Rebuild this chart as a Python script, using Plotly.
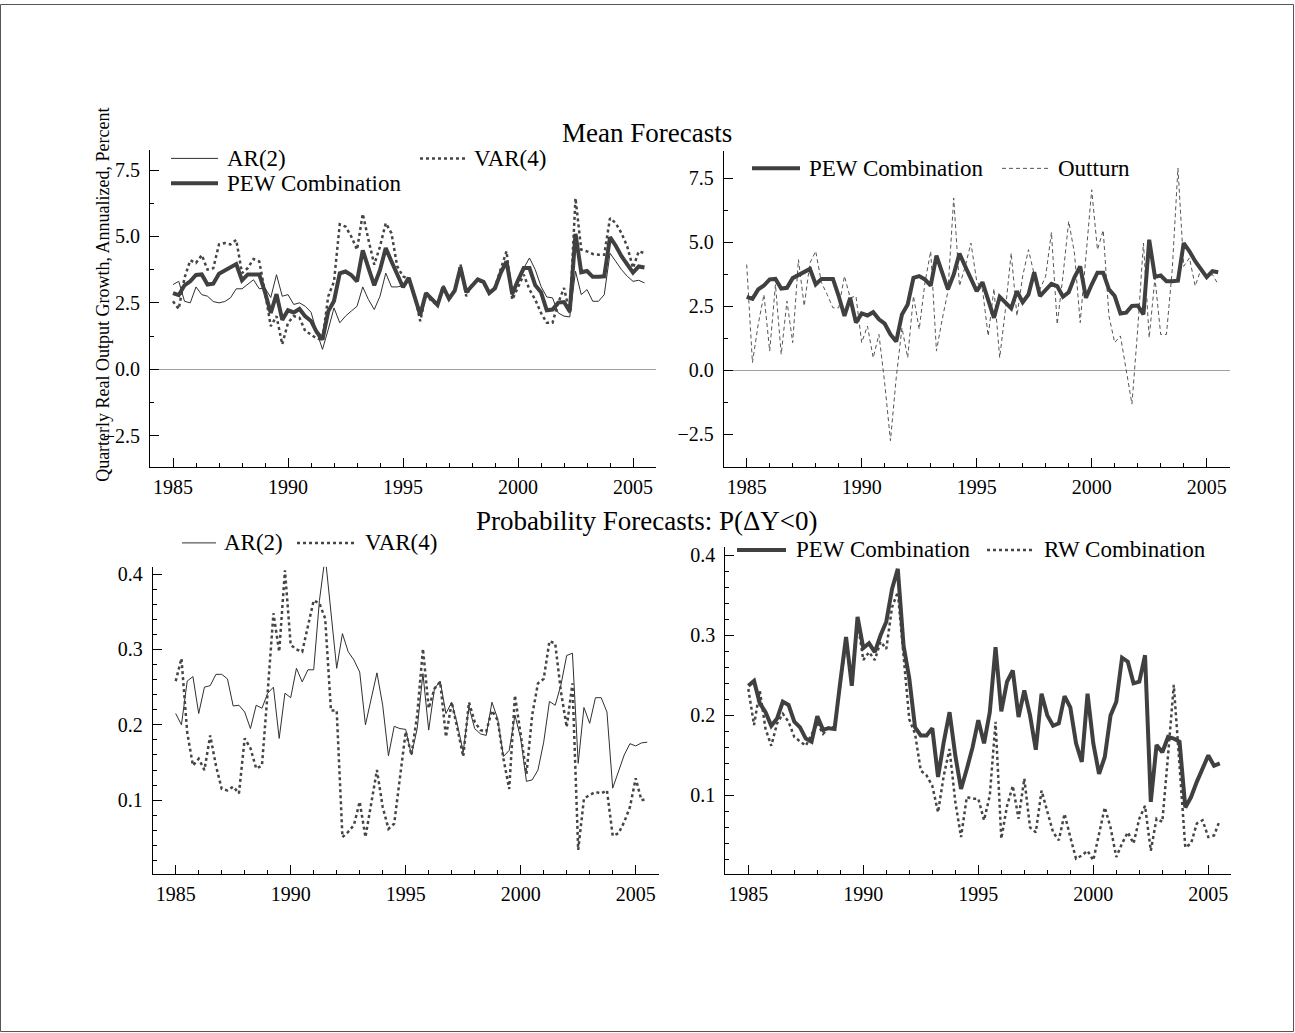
import plotly.graph_objects as go

# ---------------- data ----------------
quarters = [1985 + 0.25 * i for i in range(83)]

pew_mean = [2.87, 2.79, 3.16, 3.31, 3.55, 3.57, 3.19, 3.22, 3.60, 3.71, 3.83, 3.96, 3.35, 3.57, 3.57, 3.57, 2.90, 2.12, 2.83, 1.86,
            2.22, 2.14, 2.27, 1.99, 1.82, 1.40, 1.12, 2.18, 2.57,
            3.61, 3.68, 3.55, 3.31, 4.48, 3.81, 3.16, 3.74, 4.56, 4.06, 3.61, 3.09, 3.44, 2.70, 2.05, 2.87, 2.64, 2.42, 3.09, 2.66,
            2.96, 3.83, 2.90, 3.16, 3.38, 3.29, 2.87, 3.05, 3.63, 4.06,
            2.83, 3.35, 3.81, 3.81, 3.16, 2.90, 2.22, 2.25, 2.51, 2.53, 2.18, 5.10, 3.65, 3.70, 3.48, 3.48, 3.50, 4.97, 4.65, 4.26,
            3.94, 3.64, 3.87, 3.83]

ar2_mean = [3.19, 3.31, 2.56, 2.50, 3.10, 2.81, 2.75, 2.55, 2.50, 2.55, 2.69, 3.03, 3.03, 3.20, 3.37, 3.03, 3.06, 2.70, 3.56, 2.75,
            2.81, 2.44, 2.50, 2.37, 2.15, 1.40,
            0.75, 1.50, 2.31, 1.75, 2.00, 2.19, 2.37, 3.10, 2.62, 2.25, 2.75, 3.62, 3.10, 3.10,
            3.15, 3.40, 2.75, 2.15, 2.80, 2.60, 2.45, 3.05, 2.70, 2.95, 3.75, 2.95, 3.15, 3.35, 3.30, 2.90, 3.10, 3.70,
            4.00, 2.75, 3.30, 3.81, 4.19, 3.75, 3.12, 2.72, 2.69, 2.12, 2.00, 1.97, 3.69, 2.81, 3.00, 2.56, 2.56, 2.81, 4.37, 4.06,
            3.75, 3.50, 3.31, 3.35, 3.25]

var4_mean = [2.56, 2.27, 3.44, 4.10, 4.00, 4.30, 3.75, 3.80, 4.70, 4.75, 4.70, 4.87, 3.62, 3.81, 4.15, 4.06, 2.90, 1.62, 2.00, 0.94,
             1.75, 2.00, 1.94, 1.44, 1.31, 1.15,
             1.12, 2.75, 3.30, 5.46, 5.37, 5.00, 4.50, 5.85, 4.87, 3.94, 4.62, 5.50, 5.12, 3.87,
             3.50, 3.40, 2.80, 1.81, 2.85, 2.55, 2.45, 3.15, 2.60, 3.00, 3.95, 2.75, 3.20, 3.35, 3.25, 2.85, 3.10, 3.75,
             4.44, 2.62, 3.10, 3.56, 3.00, 2.62, 2.12, 1.75, 1.75, 2.50, 3.06, 2.12, 6.44, 4.50, 4.44, 4.34, 4.31, 4.31, 5.69, 5.50,
             5.12, 4.62, 3.81, 4.44, 4.37]

outturn = [4.13, 0.30, 1.79, 2.96, 0.75, 3.35, 0.62, 2.70, 1.08, 4.32, 2.51, 4.19, 4.65, 3.42, 2.96, 2.44, 2.44, 3.68, 2.83, 2.90,
           1.08, 1.73, 0.49, 1.40, -0.50, -2.75, -0.30, 1.66, 0.49,
           2.90, 1.60, 3.42, 4.65, 0.75, 1.99, 3.09, 6.73, 3.29, 4.06, 4.97, 3.48, 3.16, 1.34, 3.19, 0.49, 2.38, 4.58, 2.12, 3.68,
           4.71, 3.74, 3.16, 3.68, 5.39, 1.79, 3.68, 5.82, 4.58, 1.86,
           4.50, 7.05, 4.71, 5.47, 2.12, 1.08, 1.34, 0.05, -1.32, 1.60, 4.97, 1.27, 3.61, 1.40, 1.40, 3.90, 7.90, 4.06, 4.39, 3.29,
           3.94, 3.68, 3.74, 3.35]

ar2_prob = [0.215, 0.200, 0.258, 0.264, 0.215, 0.250, 0.252, 0.267, 0.267, 0.261, 0.225, 0.226, 0.217, 0.195, 0.226, 0.222, 0.242,
            0.250, 0.182, 0.242, 0.236, 0.275, 0.257, 0.273, 0.273, 0.365,
            0.424, 0.350, 0.275, 0.321, 0.297, 0.286, 0.270, 0.200, 0.235, 0.269, 0.226, 0.159, 0.198, 0.195, 0.194, 0.160, 0.195,
            0.268, 0.193, 0.248, 0.258, 0.215, 0.230, 0.200, 0.164, 0.224, 0.195, 0.188, 0.186,
            0.230, 0.208, 0.158, 0.166, 0.213, 0.182, 0.125, 0.127, 0.140, 0.177, 0.231, 0.226, 0.253, 0.292, 0.295, 0.149, 0.223,
            0.202, 0.236, 0.236, 0.217, 0.116, 0.137, 0.160, 0.175, 0.172, 0.176, 0.177]

var4_prob = [0.258, 0.288, 0.190, 0.146, 0.155, 0.140, 0.186, 0.146, 0.115, 0.113, 0.118, 0.109, 0.182, 0.169, 0.142, 0.146, 0.244,
             0.348, 0.297, 0.405, 0.306, 0.300, 0.297, 0.332, 0.365, 0.361,
             0.341, 0.219, 0.219, 0.051, 0.058, 0.067, 0.098, 0.051, 0.093, 0.140, 0.091, 0.062, 0.069, 0.129, 0.191, 0.160, 0.213,
             0.301, 0.222, 0.248, 0.257, 0.184, 0.230, 0.195, 0.158, 0.230, 0.204, 0.193, 0.191,
             0.219, 0.206, 0.155, 0.115, 0.239, 0.186, 0.135, 0.213, 0.255, 0.261, 0.311, 0.308, 0.244, 0.197, 0.255, 0.034, 0.102,
             0.107, 0.111, 0.109, 0.113, 0.053, 0.056, 0.071, 0.091, 0.129, 0.100, 0.102]

pew_prob = [0.237, 0.243, 0.215, 0.204, 0.187, 0.196, 0.217, 0.213, 0.192, 0.185, 0.171, 0.167, 0.199, 0.182, 0.184, 0.183, 0.242,
            0.298, 0.237, 0.323, 0.284, 0.290, 0.279, 0.300, 0.317, 0.358, 0.383, 0.287, 0.246,
            0.185, 0.175, 0.175, 0.184, 0.123, 0.167, 0.204, 0.150, 0.108, 0.133, 0.160, 0.194, 0.165, 0.204, 0.285, 0.205, 0.242,
            0.256, 0.198, 0.231, 0.200, 0.157, 0.227, 0.200, 0.187, 0.190, 0.224, 0.210, 0.165, 0.142,
            0.227, 0.165, 0.127, 0.148, 0.200, 0.217, 0.272, 0.267, 0.240, 0.242, 0.275, 0.092, 0.163, 0.154, 0.173, 0.171, 0.167,
            0.085, 0.098, 0.117, 0.133, 0.150, 0.137, 0.140]

rw_prob = [0.233, 0.188, 0.231, 0.183, 0.162, 0.190, 0.202, 0.192, 0.173, 0.167, 0.162, 0.176, 0.190, 0.177, 0.185, 0.185, 0.240,
           0.292, 0.246, 0.317, 0.269, 0.279, 0.269, 0.292, 0.283, 0.335, 0.354, 0.271, 0.195,
           0.177, 0.131, 0.125, 0.112, 0.079, 0.125, 0.158, 0.092, 0.048, 0.098, 0.096, 0.096, 0.069, 0.100, 0.192, 0.046, 0.087,
           0.112, 0.071, 0.121, 0.060, 0.054, 0.106, 0.079, 0.054, 0.044, 0.077, 0.048, 0.021, 0.025,
           0.031, 0.019, 0.050, 0.085, 0.060, 0.023, 0.040, 0.054, 0.040, 0.071, 0.087, 0.031, 0.071, 0.067, 0.150, 0.238, 0.137,
           0.035, 0.040, 0.065, 0.069, 0.048, 0.050, 0.069]

year_ticks = [1985, 1990, 1995, 2000, 2005]

# ---------------- layout helpers ----------------
W, H = 1295, 1033
FONT = "Liberation Serif, Times New Roman, serif"


def px_x(p):
    return p / W


def px_y(p):
    return 1 - p / H


fig = go.Figure()

C_PEW = "#404040"
C_THIN = "#303030"
C_DOT = "#454545"

# top-left
fig.add_trace(go.Scatter(x=quarters, y=ar2_mean, mode="lines", line=dict(color=C_THIN, width=1), xaxis="x", yaxis="y"))
fig.add_trace(go.Scatter(x=quarters, y=var4_mean, mode="lines", line=dict(color=C_DOT, width=2.5, dash="dot"), xaxis="x", yaxis="y"))
fig.add_trace(go.Scatter(x=quarters, y=pew_mean, mode="lines", line=dict(color=C_PEW, width=4), xaxis="x", yaxis="y"))
# top-right
fig.add_trace(go.Scatter(x=quarters, y=outturn, mode="lines", line=dict(color="#555555", width=1, dash="4px,3px"), xaxis="x2", yaxis="y2"))
fig.add_trace(go.Scatter(x=quarters, y=pew_mean, mode="lines", line=dict(color=C_PEW, width=4), xaxis="x2", yaxis="y2"))
# bottom-left
fig.add_trace(go.Scatter(x=quarters, y=ar2_prob, mode="lines", line=dict(color=C_THIN, width=1), xaxis="x3", yaxis="y3"))
fig.add_trace(go.Scatter(x=quarters, y=var4_prob, mode="lines", line=dict(color=C_DOT, width=2.5, dash="dot"), xaxis="x3", yaxis="y3"))
# bottom-right
fig.add_trace(go.Scatter(x=quarters, y=rw_prob, mode="lines", line=dict(color=C_DOT, width=2.5, dash="dot"), xaxis="x4", yaxis="y4"))
fig.add_trace(go.Scatter(x=quarters, y=pew_prob, mode="lines", line=dict(color=C_PEW, width=4), xaxis="x4", yaxis="y4"))

tickfont = dict(family=FONT, size=20, color="black")


def xaxis(x0, x1, anchor):
    return dict(domain=[px_x(x0), px_x(x1)], range=[1984, 2006], anchor=anchor,
                tickmode="array", tickvals=year_ticks, ticks="inside", ticklen=9, tickwidth=1,
                tickcolor="black", showline=True, linecolor="black", linewidth=1, showgrid=False,
                zeroline=False, tickfont=tickfont, ticklabelstandoff=2,
                minor=dict(tickmode="linear", tick0=1984, dtick=1, ticks="inside", ticklen=4,
                           tickcolor="black", showgrid=False))


def yaxis(ytop, ybot, rng, anchor, dtick, minor_dtick, zero):
    return dict(domain=[px_y(ybot), px_y(ytop)], range=rng, anchor=anchor,
                tick0=0, dtick=dtick, tickformat=".1f", ticks="inside", ticklen=9, tickwidth=1,
                tickcolor="black", showline=True, linecolor="black", linewidth=1, showgrid=False,
                zeroline=zero, zerolinecolor="#a0a0a0", zerolinewidth=1, tickfont=tickfont,
                ticklabelstandoff=5,
                minor=dict(dtick=minor_dtick, ticks="inside", ticklen=4, tickcolor="black", showgrid=False))


# pixel geometry
TL = dict(x0=150, x1=656, ytop=146.7, ybot=465)
TR = dict(x0=723.7, x1=1229.7, ytop=148, ybot=465)
BL = dict(x0=152.7, x1=658.7, ytop=565, ybot=873.3)
BR = dict(x0=725.3, x1=1231.3, ytop=545, ybot=873.3)


def yr_top(zero_px, ppu, ytop, ybot):
    return [(zero_px - ybot) / ppu, (zero_px - ytop) / ppu]


rng_tl = yr_top(366.7, 26.67, TL["ytop"], TL["ybot"])
rng_tr = yr_top(367.7, 25.7, TR["ytop"], TR["ybot"])
rng_bl = [0.4 - (BL["ybot"] - 572.3) / 756.7, 0.4 - (BL["ytop"] - 572.3) / 756.7]
rng_br = [0.4 - (BR["ybot"] - 553.3) / 800.0, 0.4 - (BR["ytop"] - 553.3) / 800.0]
rng_br[0] = max(rng_br[0], 0.002)

fig.update_layout(
    width=W, height=H, margin=dict(l=0, r=0, t=0, b=0),
    paper_bgcolor="white", plot_bgcolor="white", showlegend=False,
    font=dict(family=FONT, color="black"),
    xaxis=xaxis(TL["x0"], TL["x1"], "y"),
    yaxis=yaxis(TL["ytop"], TL["ybot"], rng_tl, "x", 2.5, 1.25, True),
    xaxis2=xaxis(TR["x0"], TR["x1"], "y2"),
    yaxis2=yaxis(TR["ytop"], TR["ybot"], rng_tr, "x2", 2.5, 1.25, True),
    xaxis3=xaxis(BL["x0"], BL["x1"], "y3"),
    yaxis3=yaxis(BL["ytop"], BL["ybot"], rng_bl, "x3", 0.1, 0.02, False),
    xaxis4=xaxis(BR["x0"], BR["x1"], "y4"),
    yaxis4=yaxis(BR["ytop"], BR["ybot"], rng_br, "x4", 0.1, 0.02, False),
)

ann = []
shapes = []


def text(s, x, y, size, xanchor="left", angle=0):
    ann.append(dict(text=s, x=px_x(x), y=px_y(y), xref="paper", yref="paper", xanchor=xanchor,
                    yanchor="middle", showarrow=False, textangle=angle,
                    font=dict(family=FONT, size=size, color="black")))


def sample(x0, x1, y, color, width, dash="solid"):
    shapes.append(dict(type="line", xref="paper", yref="paper", x0=px_x(x0), x1=px_x(x1),
                       y0=px_y(y), y1=px_y(y), line=dict(color=color, width=width, dash=dash)))


LEG = 23
# titles
text("Mean Forecasts", 647, 130, 27, "center")
text("Probability Forecasts: P(\u0394Y<0)", 647, 519, 27, "center")
text("Quarterly Real Output Growth, Annualized, Percent", 103, 292, 18, "center", -90)

# top-left legend
sample(171, 218, 155, C_THIN, 1)
text("AR(2)", 225, 155, LEG)
sample(171, 218, 180, C_PEW, 4)
text("PEW Combination", 225, 180, LEG)
sample(420, 468, 155, C_DOT, 2.5, "dot")
text("VAR(4)", 472, 155, LEG)
# top-right legend
sample(752, 800, 165, C_PEW, 4)
text("PEW Combination", 807, 165, LEG)
sample(1002, 1048, 165, "#555555", 1, "4px,3px")
text("Outturn", 1056, 165, LEG)
# bottom-left legend
sample(182, 216, 541, C_THIN, 1)
text("AR(2)", 222, 541, LEG)
sample(297, 356, 541, C_DOT, 2.5, "dot")
text("VAR(4)", 363, 541, LEG)
# bottom-right legend
sample(737, 786, 548, C_PEW, 4)
text("PEW Combination", 794, 548, LEG)
sample(987, 1034, 548, C_DOT, 2.5, "dot")
text("RW Combination", 1042, 548, LEG)

# outer frame
shapes.append(dict(type="rect", xref="paper", yref="paper", x0=px_x(0.5), x1=px_x(W - 1.5),
                   y0=px_y(H - 1.5), y1=px_y(0.5), line=dict(color="#555555", width=1)))

fig.update_layout(annotations=ann, shapes=shapes)

fig.write_html("out.html", config={"displayModeBar": False, "staticPlot": True},
               post_script="document.body.style.margin='0';document.body.style.overflow='hidden';")
